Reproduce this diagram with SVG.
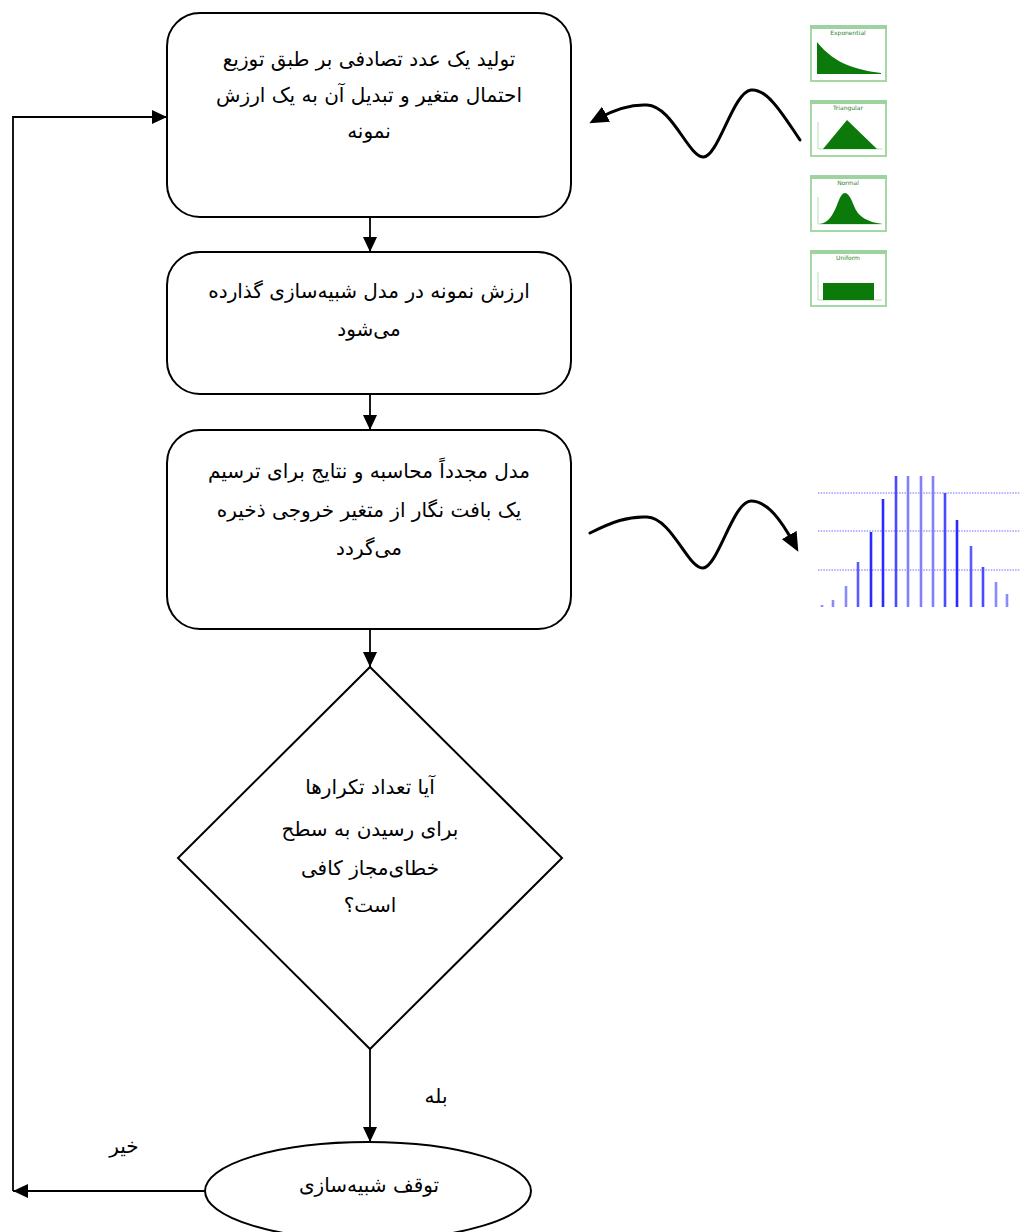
<svg xmlns="http://www.w3.org/2000/svg" width="1029" height="1232" viewBox="0 0 1029 1232">
<style>
.box{fill:#fff;stroke:#000;stroke-width:2}
.t{font-family:"DejaVu Sans","Noto Sans",sans-serif;font-size:20px;fill:#000;text-anchor:middle;direction:rtl}
.con{fill:none;stroke:#000;stroke-width:1.8}
.wave{fill:none;stroke:#000;stroke-width:3;stroke-linecap:round}
.frame{fill:#fff;stroke:#a6d8a6;stroke-width:2}
.bar{fill:#9ed29e}
.axis{fill:none;stroke:#b6deb6;stroke-width:1}
.shape{fill:#0b7a0b}
.ttl{font-family:"DejaVu Sans",sans-serif;font-size:6px;fill:#2d7f2d;text-anchor:middle}
.grid{stroke:#9c9cff;stroke-width:1.6;stroke-dasharray:1.5 1.2}
.hb{stroke-width:2.6}
</style>
<defs>
<marker id="ah" markerUnits="userSpaceOnUse" markerWidth="15" markerHeight="14" refX="15" refY="7" orient="auto">
<path d="M0,0 L15,7 L0,14 z" fill="#000"/>
</marker>
<marker id="wh" markerUnits="userSpaceOnUse" markerWidth="19" markerHeight="17" refX="8" refY="8.5" orient="auto">
<path d="M0,0 L19,8.5 L0,17 z" fill="#000"/>
</marker>
<g id="frm">
<rect class="frame" x="1" y="1" width="75" height="55"/>
<rect class="bar" x="0" y="0" width="77" height="4"/>
</g>
</defs>

<g id="connectors">
<line class="con" x1="370" y1="217" x2="370" y2="252" marker-end="url(#ah)"/>
<line class="con" x1="370" y1="394" x2="370" y2="430" marker-end="url(#ah)"/>
<line class="con" x1="370" y1="629" x2="370" y2="667" marker-end="url(#ah)"/>
<line class="con" x1="370" y1="1049" x2="370" y2="1142" marker-end="url(#ah)"/>
<line class="con" x1="205" y1="1191" x2="13" y2="1191" marker-end="url(#ah)"/>
<polyline class="con" points="13,1191 13,117 167,117" marker-end="url(#ah)"/>
<path class="wave" d="M800,140 C785,118 768,88 751,90 C733,92 718,158 703,157 C688,156 672,106 647,105 C628,104 612,111 599,118" marker-end="url(#wh)"/>
<path class="wave" d="M590,533 C612,522 628,516 647,517 C672,518 688,569 703,568 C718,567 733,501 751,501 C768,501 782,522 793,542" marker-end="url(#wh)"/>
<text class="t" x="436" y="1103">بله</text>
<text class="t" x="124" y="1153">خیر</text>
</g>

<g id="n1">
<rect class="box" x="167" y="13" width="404" height="204" rx="33"/>
<text class="t" x="369" y="66">تولید یک عدد تصادفی بر طبق توزیع</text>
<text class="t" x="369" y="102">احتمال متغیر و تبدیل آن به یک ارزش</text>
<text class="t" x="369" y="138">نمونه</text>
</g>

<g id="n2">
<rect class="box" x="167" y="252" width="404" height="142" rx="33"/>
<text class="t" x="369" y="298">ارزش نمونه در مدل شبیه‌سازی گذارده</text>
<text class="t" x="369" y="336">می‌شود</text>
</g>

<g id="n3">
<rect class="box" x="167" y="430" width="404" height="199" rx="33"/>
<text class="t" x="369" y="478">مدل مجدداً محاسبه و نتایج برای ترسیم</text>
<text class="t" x="369" y="517">یک بافت نگار از متغیر خروجی ذخیره</text>
<text class="t" x="369" y="555">می‌گردد</text>
</g>

<g id="n4">
<polygon class="box" points="370,667 562,858 370,1049 178,858"/>
<text class="t" x="370" y="794">آیا تعداد تکرارها</text>
<text class="t" x="370" y="836">برای رسیدن به سطح</text>
<text class="t" x="370" y="875">خطای‌مجاز کافی</text>
<text class="t" x="370" y="912">است؟</text>
</g>

<g id="n5">
<ellipse class="box" cx="368" cy="1191" rx="163" ry="49"/>
<text class="t" x="369" y="1192">توقف شبیه‌سازی</text>
</g>

<g id="dist-exponential" transform="translate(810,25)">
<use href="#frm"/>
<text class="ttl" x="38" y="10">Exponential</text>
<path class="shape" d="M7,49 L7,17 C16,28 26,36 40,41 C52,45 62,47 71,48 L71,49 Z"/>
</g>
<g id="dist-triangular" transform="translate(810,100)">
<use href="#frm"/>
<text class="ttl" x="38" y="10">Triangular</text>
<polyline class="axis" points="8,22 8,49 72,49"/>
<path class="shape" d="M13,49 L37,20 L67,49 Z"/>
</g>
<g id="dist-normal" transform="translate(810,175)">
<use href="#frm"/>
<text class="ttl" x="38" y="10">Normal</text>
<polyline class="axis" points="8,22 8,49 72,49"/>
<path class="shape" d="M10,49 C18,48 23,40 27,30 C30,22 32,18 35,18 C38,18 41,23 44,31 C48,42 58,47 72,49 Z"/>
</g>
<g id="dist-uniform" transform="translate(810,250)">
<use href="#frm"/>
<text class="ttl" x="38" y="10">Uniform</text>
<polyline class="axis" points="8,22 8,50 72,50"/>
<rect class="shape" x="13" y="33" width="51" height="17"/>
</g>

<g id="histogram">
<line class="grid" x1="818" y1="493" x2="1020" y2="493"/>
<line class="grid" x1="818" y1="531" x2="1020" y2="531"/>
<line class="grid" x1="818" y1="570" x2="1020" y2="570"/>
<g class="hb">
<line x1="822" y1="605" x2="822" y2="607" stroke="#8a8aff"/>
<line x1="833" y1="600" x2="833" y2="607" stroke="#8a8aff"/>
<line x1="846" y1="586" x2="846" y2="607" stroke="#8a8aff"/>
<line x1="858" y1="562" x2="858" y2="607" stroke="#5a5aff"/>
<line x1="871" y1="532" x2="871" y2="607" stroke="#2a2aff"/>
<line x1="883" y1="499" x2="883" y2="607" stroke="#2a2aff"/>
<line x1="896" y1="476" x2="896" y2="607" stroke="#4a4aff"/>
<line x1="908" y1="476" x2="908" y2="607" stroke="#8080ff"/>
<line x1="921" y1="476" x2="921" y2="607" stroke="#8080ff"/>
<line x1="933" y1="476" x2="933" y2="607" stroke="#8080ff"/>
<line x1="945" y1="493" x2="945" y2="607" stroke="#4a4aff"/>
<line x1="957" y1="520" x2="957" y2="607" stroke="#2a2aff"/>
<line x1="971" y1="546" x2="971" y2="607" stroke="#5a5aff"/>
<line x1="983" y1="567" x2="983" y2="607" stroke="#4a4aff"/>
<line x1="996" y1="582" x2="996" y2="607" stroke="#8a8aff"/>
<line x1="1007" y1="594" x2="1007" y2="607" stroke="#8a8aff"/>
</g>
</g>
</svg>
